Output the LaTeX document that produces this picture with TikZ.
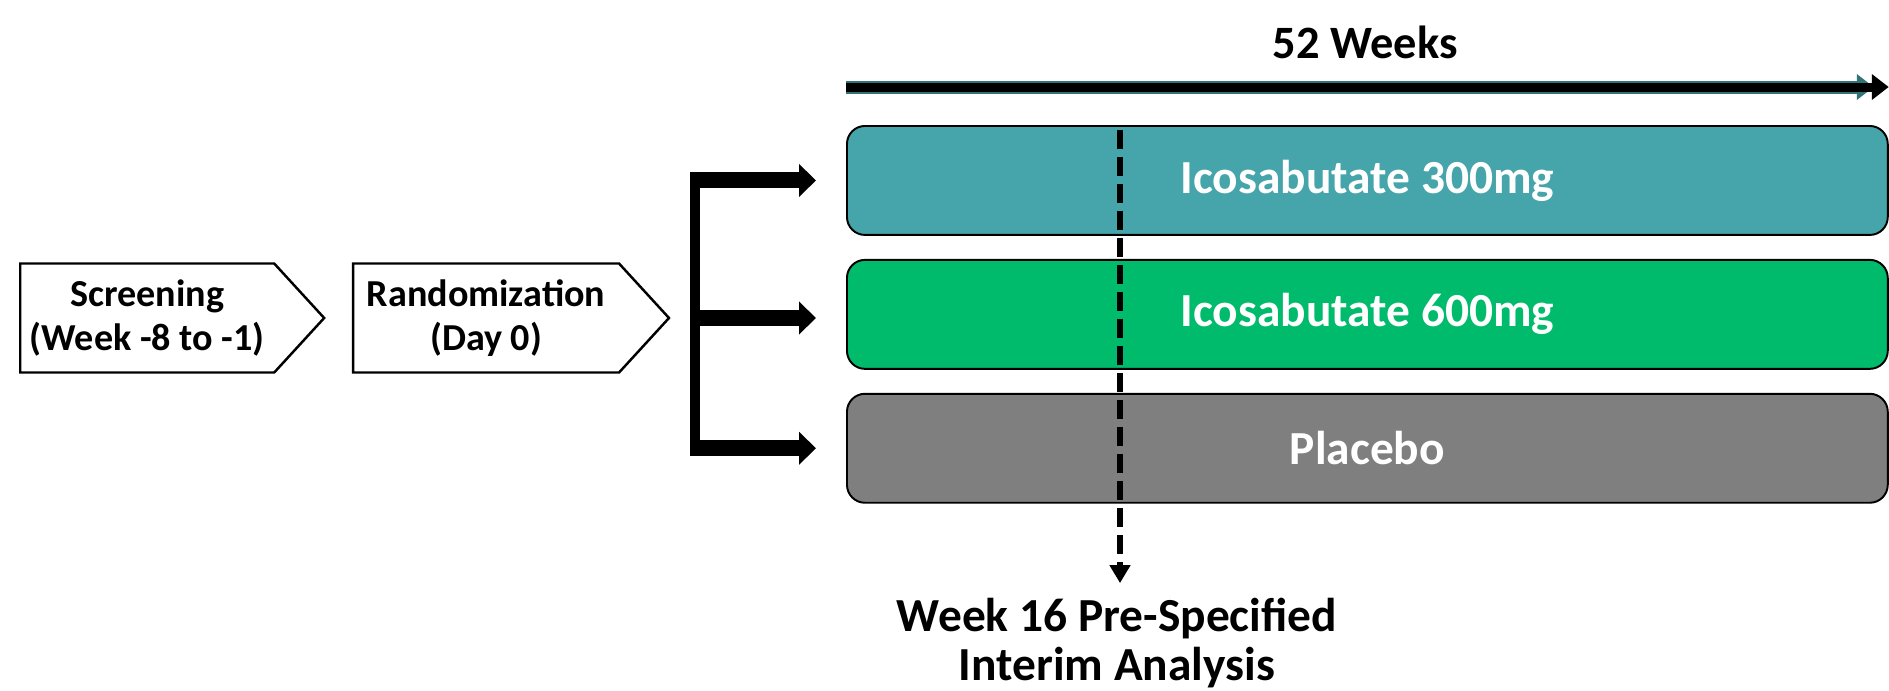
\documentclass[tikz,border=0pt]{standalone}
\usepackage{fontspec}
\setmainfont{Carlito}
\usetikzlibrary{arrows.meta,positioning,shapes.symbols}

\definecolor{armteal}{RGB}{70,165,170}
\definecolor{armgreen}{RGB}{0,187,108}
\definecolor{armgray}{RGB}{127,127,127}

\begin{document}
\begin{tikzpicture}[
    x=0.02cm, y=-0.02cm,
    phase/.style={draw, line width=1.4pt, signal, signal to=east, signal pointer angle=95,
        minimum height=2.18cm, inner sep=0pt, align=center, font=\fontsize{21.7}{25.5}\selectfont\bfseries},
    arm/.style={draw, line width=1.1pt, rounded corners=0.36cm, minimum width=20.82cm, minimum height=2.18cm,
        text=white, font=\fontsize{27}{30}\selectfont\bfseries},
    heading/.style={align=center, inner sep=0pt, font=\fontsize{27}{27.5}\selectfont\bfseries},
    fork/.style={line width=0.32cm, -{Triangle[length=0.34cm,width=0.64cm]}, shorten >=0.6cm},
    timeline/.style={line width=0.18cm, -{Triangle[length=0.34cm,width=0.5cm]},
        preaction={draw=armteal!70!black, line width=0.26cm, shorten >=0.3cm}},
    cutoff/.style={line width=0.13cm, dash pattern=on 0.38cm off 0.16cm,
        -{Triangle[length=0.36cm,width=0.4cm]}, shorten >=0.3cm}
]
\useasboundingbox (0,0) rectangle (1889,690);

% study phases
\node[phase, anchor=west, minimum width=6.08cm] (screen) at (19,318) {Screening\\(Week -8 to -1)};
\node[phase, right=0.52cm of screen, minimum width=6.32cm] (rand) {Randomization\\(Day 0)};

% treatment arms
\node[arm, fill=armteal, anchor=north west] (arm300) at (846,125) {Icosabutate 300mg};
\node[arm, fill=armgreen, below=0.46cm of arm300] (arm600) {Icosabutate 600mg};
\node[arm, fill=armgray, below=0.46cm of arm600] (placebo) {Placebo};

% randomization fork
\coordinate (fork x) at (695,0);
\draw[line width=0.2cm] ([yshift=0.16cm]fork x |- arm300.west) -- ([yshift=-0.16cm]fork x |- placebo.west);
\draw[fork] (fork x |- arm300.west) -- (arm300.west);
\draw[fork] (fork x |- rand.east) -- (arm600.west |- rand.east);
\draw[fork] (fork x |- placebo.west) -- (placebo.west);

% duration
\node[heading, anchor=base, font=\fontsize{26.4}{28}\selectfont\bfseries] (weeks) at (1365,58) {52 Weeks};
\draw[timeline] ([yshift=0.76cm]arm300.north west) -- ([yshift=0.76cm]arm300.north east);

% interim cut
\node[heading] (interim) at (1117,643) {Week 16 Pre-Specified\\Interim Analysis};
\coordinate (cut) at (1120,130);
\draw[cutoff] (cut) -- (cut |- interim.north);
\end{tikzpicture}
\end{document}
